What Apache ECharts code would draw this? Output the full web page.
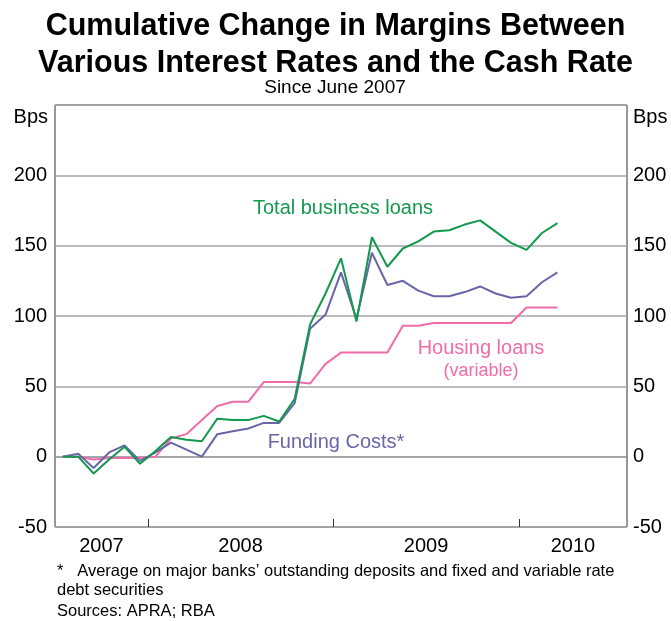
<!DOCTYPE html>
<html>
<head>
<meta charset="utf-8">
<script src="https://cdn.jsdelivr.net/npm/echarts@6/dist/echarts.min.js"></script>
<style>html,body{margin:0;padding:0;background:#fff;}#c{width:671px;height:621px;}</style>
</head>
<body>
<div id="c"></div>
<script>
// Monthly observations, June 2007 (index 0) to February/March 2010
var businessLoans = [0, 0, -12, -2, 7, -5, 4, 14, 12, 11, 27, 26, 26, 29, 25, 41, 94, 116, 141, 96, 156, 135, 148, 153, 160, 161, 165, 168, 160, 152, 147, 159, 166];
var fundingCosts = [0, 2, -8, 3, 8, -3, 3, 10, 5, 0, 16, 18, 20, 24, 24, 38, 91, 101, 131, 98, 145, 122, 125, 118, 114, 114, 117, 121, 116, 113, 114, 124, 131];
var housingLoans = [0, 0, -2, -1, -1, -1, 0, 13, 16, 26, 36, 39, 39, 53, 53, 53, 52, 66, 74, 74, 74, 74, 93, 93, 95, 95, 95, 95, 95, 95, 106, 106, 106];
var yearLabels = ['2007', '2008', '2009', '2010'];
var yearLabelPos = [2.5, 11.5, 23.5, 33];
var yearTickPos = [5.5, 17.5, 29.5];

var FONT = "'Liberation Sans', Arial, sans-serif";
var GREEN = '#13994d', PURPLE = '#6866a8', PINK = '#f06ca8';

function pairs(arr) { return arr.map(function (v, i) { return [i, v]; }); }

var chart = echarts.init(document.getElementById('c'), null, { renderer: 'canvas' });
var yAxisBase = {
  type: 'value', min: -50, max: 250, interval: 50,
  axisLine: { show: false }, axisTick: { show: false },
  splitLine: { show: true, lineStyle: { color: ['#a6a6a6', '#8a8a8a', '#a6a6a6', '#a6a6a6', '#a6a6a6', '#a6a6a6', '#a6a6a6'], width: 1.5 } },
  axisLabel: { fontFamily: FONT, fontSize: 20, color: '#000', margin: 8,
    formatter: function (v) { return v === 250 ? '' : String(v); } }
};
var yLeft = echarts.util.merge({ position: 'left' }, yAxisBase, true);
var yRight = echarts.util.merge({ position: 'right' }, yAxisBase, true);
yRight.splitLine = { show: false };
yRight.axisLabel.margin = 6;

chart.setOption({
  animation: false,
  title: {
    text: 'Cumulative Change in Margins Between\nVarious Interest Rates and the Cash Rate',
    left: 'center', top: 3,
    textStyle: { fontFamily: FONT, fontSize: 30.5, fontWeight: 'bold', color: '#000', lineHeight: 37 }
  },
  grid: { left: 55, right: 44, top: 105, bottom: 94, show: true, borderColor: '#333', borderWidth: 1, backgroundColor: 'transparent' },
  xAxis: {
    type: 'value', min: -0.5, max: 36.5,
    axisLine: { show: false, onZero: false },
    splitLine: { show: false },
    axisTick: { show: true, inside: true, length: 8, customValues: yearTickPos, lineStyle: { color: '#333', width: 1 } },
    axisLabel: { show: true, customValues: yearLabelPos, fontFamily: FONT, fontSize: 20, color: '#000', margin: 9,
      formatter: function (v) { var k = yearLabelPos.indexOf(v); return k >= 0 ? yearLabels[k] : ''; } }
  },
  yAxis: [yLeft, yRight],
  series: [
    { name: 'Housing loans (variable)', type: 'line', data: pairs(housingLoans), showSymbol: false, lineStyle: { color: PINK, width: 2 }, z: 2 },
    { name: 'Funding Costs*', type: 'line', data: pairs(fundingCosts), showSymbol: false, lineStyle: { color: PURPLE, width: 2 }, z: 3 },
    { name: 'Total business loans', type: 'line', data: pairs(businessLoans), showSymbol: false, lineStyle: { color: GREEN, width: 2 }, z: 4 }
  ],
  graphic: [
    { type: 'text', x: 335, y: 88, style: { text: 'Since June 2007', font: '19px ' + FONT, fill: '#000', align: 'center', verticalAlign: 'middle' } },
    { type: 'text', x: 48, y: 117, style: { text: 'Bps', font: '20px ' + FONT, fill: '#000', align: 'right', verticalAlign: 'middle' } },
    { type: 'text', x: 633, y: 117, style: { text: 'Bps', font: '20px ' + FONT, fill: '#000', align: 'left', verticalAlign: 'middle' } },
    { type: 'text', x: 343, y: 208, style: { text: 'Total business loans', font: '20px ' + FONT, fill: GREEN, align: 'center', verticalAlign: 'middle' } },
    { type: 'text', x: 481, y: 348, style: { text: 'Housing loans', font: '20px ' + FONT, fill: PINK, align: 'center', verticalAlign: 'middle' } },
    { type: 'text', x: 481, y: 371, style: { text: '(variable)', font: '18px ' + FONT, fill: PINK, align: 'center', verticalAlign: 'middle' } },
    { type: 'text', x: 336, y: 442, style: { text: 'Funding Costs*', font: '20px ' + FONT, fill: PURPLE, align: 'center', verticalAlign: 'middle' } },
    { type: 'text', x: 57, y: 571, style: { text: '*   Average on major banks\u2019 outstanding deposits and fixed and variable rate', font: '16.5px ' + FONT, fill: '#000', align: 'left', verticalAlign: 'middle' } },
    { type: 'text', x: 57, y: 590, style: { text: 'debt securities', font: '16.5px ' + FONT, fill: '#000', align: 'left', verticalAlign: 'middle' } },
    { type: 'text', x: 57, y: 611, style: { text: 'Sources: APRA; RBA', font: '16.5px ' + FONT, fill: '#000', align: 'left', verticalAlign: 'middle' } }
  ]
});
</script>
</body>
</html>
